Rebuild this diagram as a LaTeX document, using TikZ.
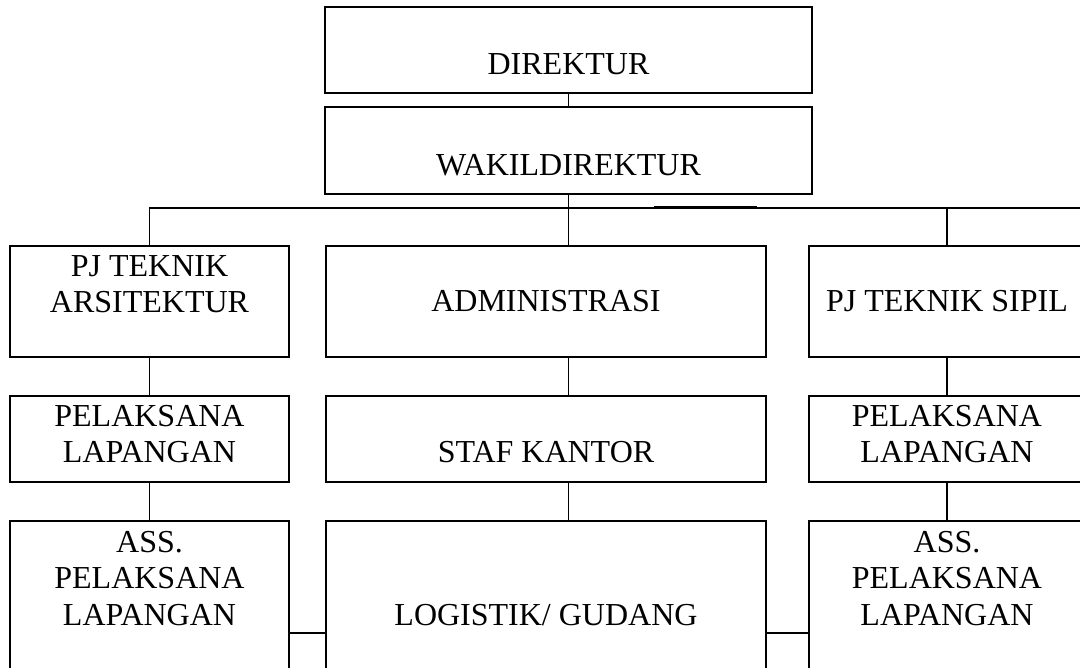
\documentclass[tikz,border=0pt]{standalone}
\usepackage{fontspec}
\setmainfont{Liberation Serif}
\usepackage{tikz}
\usetikzlibrary{positioning}

\begin{document}
\begin{tikzpicture}[
  x=1pt, y=-1pt,
  box/.style={draw, line width=2pt, inner sep=0pt},
  txt/.style={font=\fontsize{32}{36.5}\selectfont, align=center, inner sep=0pt},
  con/.style={line width=1.3pt},
]
\useasboundingbox (0,0) rectangle (1080,668);
\clip (0,0) rectangle (1080,668);

% pimpinan
\node[box, minimum width=487pt, minimum height=86pt,
      label={[txt,yshift=-14pt]center:DIREKTUR}]      (dir)   at (568.5,50)  {};
\node[box, minimum width=487pt, minimum height=87pt,
      label={[txt,yshift=-14.5pt]center:WAKILDIREKTUR}] (wakil) at (568.5,150.5) {};

% baris 2
\node[box, minimum width=279pt, minimum height=111pt,
      label={[txt,yshift=17.5pt]center:{PJ TEKNIK\\ARSITEKTUR}}] (arsi)  at (149.5,301.5) {};
\node[box, minimum width=440pt, minimum height=111pt,
      label={[txt]center:ADMINISTRASI}]                (adm)   at (546,301.5) {};
\node[box, minimum width=276pt, minimum height=111pt,
      label={[txt]center:PJ TEKNIK SIPIL}]             (sipil) at (947,301.5) {};

% baris 3
\node[box, minimum width=279pt, minimum height=86pt,
      label={[txt,yshift=5pt]center:{PELAKSANA\\LAPANGAN}}] (pel1) at (149.5,439) {};
\node[box, minimum width=440pt, minimum height=86pt,
      label={[txt,yshift=-13pt]center:STAF KANTOR}]     (staf) at (546,439) {};
\node[box, minimum width=276pt, minimum height=86pt,
      label={[txt,yshift=5pt]center:{PELAKSANA\\LAPANGAN}}] (pel2) at (947,439) {};

% baris 4
\node[box, minimum width=279pt, minimum height=179pt,
      label={[txt,yshift=32pt]center:{ASS.\\PELAKSANA\\LAPANGAN}}] (ass1) at (149.5,610.5) {};
\node[box, minimum width=440pt, minimum height=179pt,
      label={[txt,yshift=-4.5pt]center:LOGISTIK/ GUDANG}] (log) at (546,610.5) {};
\node[box, minimum width=276pt, minimum height=179pt,
      label={[txt,yshift=32pt]center:{ASS.\\PELAKSANA\\LAPANGAN}}] (ass2) at (947,610.5) {};

\coordinate (busL) at (149,208);
\coordinate (busR) at (1080,208);
\coordinate (nubA) at (654,206.6);
\coordinate (nubB) at (757,206.6);

\draw[con] (dir.south) -- (wakil.north);
\draw[con] (wakil.south) -- (wakil.south |- adm.north);
\draw[con, line width=1.6pt] (arsi.north) -- (arsi.north |- busL) -- (busR);
\draw[con] (sipil.north) -- (sipil.north |- busL);
\draw[line width=1.2pt] (nubA) -- (nubB);

\draw[con] (arsi) -- (pel1);
\draw[con] (adm.south -| wakil.south) -- (staf.north -| wakil.south);
\draw[con] (sipil) -- (pel2);

\draw[con] (pel1) -- (ass1);
\draw[con] (staf.south -| wakil.south) -- (log.north -| wakil.south);
\draw[con] (pel2) -- (ass2);

\draw[con] ([yshift=-22.5pt]ass1.east) -- ([yshift=-22.5pt]log.west);
\draw[con] ([yshift=-22.5pt]log.east) -- ([yshift=-22.5pt]ass2.west);
\end{tikzpicture}
\end{document}
